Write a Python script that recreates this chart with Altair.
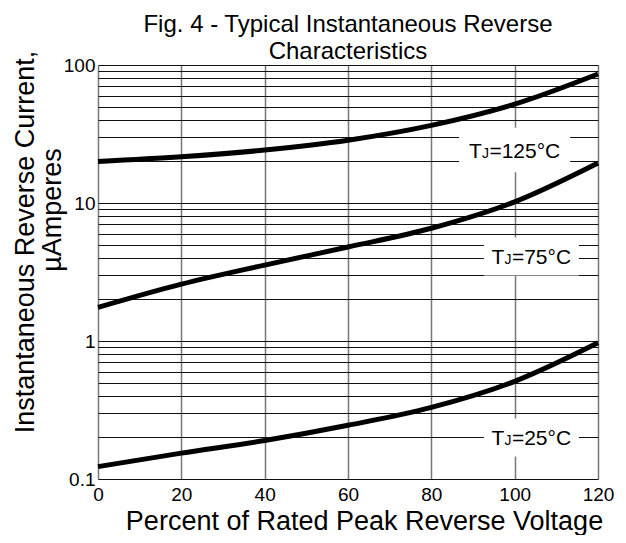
import altair as alt
import pandas as pd

# ---------------- data ----------------
x_pct = [0, 20, 40, 60, 80, 100, 120]
i_tj125 = [20.0, 21.6, 24.2, 28.5, 36.5, 52.0, 86.0]
i_tj75 = [1.75, 2.58, 3.55, 4.8, 6.56, 10.2, 19.5]
i_tj25 = [0.123, 0.154, 0.19, 0.245, 0.33, 0.51, 0.97]
series = ["TJ=125°C", "TJ=75°C", "TJ=25°C"]

label_rest = ["=125°C", "=75°C", "=25°C"]
label_x = [100.0, 104.0, 104.0]
label_y = [24.2, 4.1, 0.2]

x_ticks = [0, 20, 40, 60, 80, 100, 120]
y_grid = [0.1, 0.2, 0.3, 0.4, 0.5, 0.6, 0.7, 0.8, 0.9,
          1, 2, 3, 4, 5, 6, 7, 8, 9,
          10, 20, 30, 40, 50, 60, 70, 80, 90, 100]

title_lines = ["Fig. 4 - Typical Instantaneous Reverse", "Characteristics"]
x_title = "Percent of Rated Peak Reverse Voltage"
y_title_lines = ["Instantaneous Reverse Current,", "µAmperes"]

# ---------------- frames ----------------
rows = []
for name, vals in zip(series, [i_tj125, i_tj75, i_tj25]):
    for xv, yv in zip(x_pct, vals):
        rows.append({"series": name, "x": xv, "y": yv})
curves = pd.DataFrame(rows)

FONT = "Liberation Sans"
LBL = 21
TITLE = 27
W, H = 500, 414
px_per_unit = W / 120.0
# approximate text widths (px) for centering the labels
rest_w = [3.374 * LBL, 2.818 * LBL, 2.818 * LBL]
t_w, j_w = 0.611 * LBL, 7.5
box_w = [111, 95, 95]
labels = pd.DataFrame({
    "x": label_x,
    "y": label_y,
    "rest": label_rest,
    "left": [cx - (t_w + j_w + rw) / 2 / px_per_unit for cx, rw in zip(label_x, rest_w)],
    "bsize": [b * b for b in box_w],
})

xs = alt.Scale(domain=[0, 120], nice=False, zero=False)
ys = alt.Scale(type="log", domain=[0.1, 100], nice=False)

label_expr = "indexof([0.1, 1, 10, 100], datum.value) >= 0 ? datum.label : ''"

base = alt.Chart(curves)
lines = base.mark_line(color="black", strokeWidth=5, interpolate="monotone").encode(
    x=alt.X("x:Q", scale=xs, axis=alt.Axis(
        values=x_ticks, title=x_title, grid=True, gridColor="#777", gridWidth=1.5,
        ticks=False, domain=False, labelFontSize=19, labelFont=FONT, labelColor="black",
        labelPadding=6, labelFlush=False, titleFont=FONT, titleFontSize=TITLE,
        titleFontWeight="normal", titleColor="black", titleX=266, titleY=50,
        titleBaseline="alphabetic")),
    y=alt.Y("y:Q", scale=ys, axis=alt.Axis(
        values=y_grid, labelExpr=label_expr, format="~g", title=None, grid=True,
        gridColor="#111", gridWidth=1, ticks=False, domain=False, labelFontSize=19,
        labelFont=FONT, labelColor="black", labelPadding=3, labelFlush=False)),
    detail="series:N",
)

lab = alt.Chart(labels)
boxes = lab.mark_point(shape="M-1,-0.4L1,-0.4L1,0.4L-1,0.4Z", filled=True, color="white",
                       opacity=1, strokeWidth=0).encode(
    x=alt.X("x:Q", scale=xs), y=alt.Y("y:Q", scale=ys),
    size=alt.Size("bsize:Q", scale=None, legend=None))
t_part = lab.mark_text(font=FONT, fontSize=LBL, align="left", baseline="alphabetic",
                       dy=7.5, color="black").encode(
    x=alt.X("left:Q", scale=xs), y=alt.Y("y:Q", scale=ys), text=alt.value("T"))
j_part = lab.mark_text(font=FONT, fontSize=14, align="left", baseline="alphabetic",
                       dy=7.5, dx=t_w, color="black").encode(
    x=alt.X("left:Q", scale=xs), y=alt.Y("y:Q", scale=ys), text=alt.value("J"))
r_part = lab.mark_text(font=FONT, fontSize=LBL, align="left", baseline="alphabetic",
                       dy=7.5, dx=t_w + j_w, color="black").encode(
    x=alt.X("left:Q", scale=xs), y=alt.Y("y:Q", scale=ys), text="rest:N")

ytitle1 = alt.Chart(pd.DataFrame({"t": [y_title_lines[0]]})).mark_text(
    font=FONT, fontSize=TITLE, angle=270, align="center", baseline="middle", color="black"
).encode(x=alt.value(-72), y=alt.value(177), text="t:N")
ytitle2 = alt.Chart(pd.DataFrame({"t": [y_title_lines[1]]})).mark_text(
    font=FONT, fontSize=TITLE, angle=270, align="center", baseline="middle", color="black"
).encode(x=alt.value(-45), y=alt.value(145), text="t:N")

chart = alt.layer(lines, boxes, t_part, j_part, r_part, ytitle1, ytitle2).properties(
    width=W, height=H,
    title=alt.Title(title_lines, font=FONT, fontSize=24, fontWeight="normal",
                    color="black", anchor="middle", frame="group", offset=-13,
                    lineHeight=27),
    autosize=alt.AutoSizeParams(type="none"),
    padding={"left": 90, "top": 57, "right": 20, "bottom": 56},
).configure_view(stroke="#333", strokeWidth=2).configure(background="white")

chart.save("out.html", embed_options={"renderer": "svg", "actions": False})
